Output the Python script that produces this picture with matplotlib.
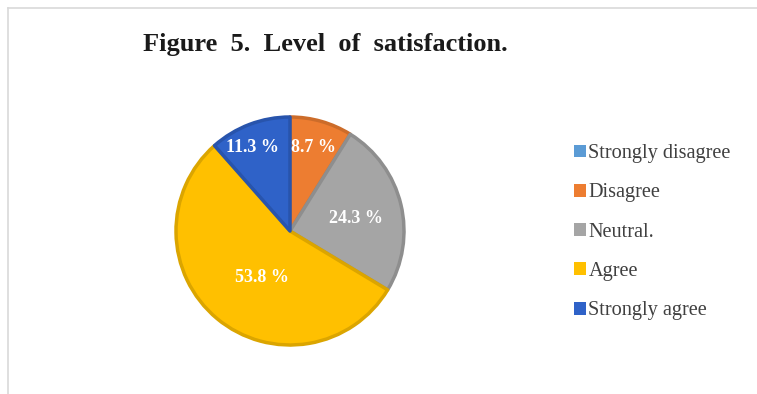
import matplotlib.pyplot as plt
import matplotlib.colors as mcolors
from matplotlib.patches import Patch
from matplotlib.lines import Line2D
import numpy as np

# satisfaction survey shares (percent)
categories = ["Strongly disagree", "Disagree", "Neutral.", "Agree", "Strongly agree"]
shares = [0.0, 8.7, 24.3, 53.8, 11.3]
colors = ["#5B9BD5", "#ED7D31", "#A5A5A5", "#FFC000", "#2F62C8"]

W, H = 757, 394
fig = plt.figure(figsize=(W / 100, H / 100), dpi=100)
ax = fig.add_axes([0, 0, 1, 1])

cx, cy, r = 290, H - 231, 114


def darker(c, f=0.86):
    rgb = np.array(mcolors.to_rgb(c))
    return tuple(rgb * f)


wedges, _ = ax.pie(shares, colors=colors, startangle=90, counterclock=False,
                   center=(cx, cy), radius=r, frame=True,
                   wedgeprops=dict(linewidth=0))
ax.set_xlim(0, W)
ax.set_ylim(0, H)
ax.set_aspect("equal")
ax.axis("off")

# darker inner rim on each slice
for w, c in zip(wedges, colors):
    if w.theta2 - w.theta1 <= 0:
        continue
    w.set_edgecolor(darker(c))
    w.set_linewidth(2.5)
    w.set_joinstyle("round")

# white percentage labels: (distance from centre, angle nudge in degrees)
label_pos = {1: (87, 0), 2: (67, -3), 3: (54, 8.5), 4: (92, 3.5)}
for i, w in enumerate(wedges):
    if shares[i] == 0:
        continue
    d, nudge = label_pos[i]
    ang = np.deg2rad((w.theta1 + w.theta2) / 2 + nudge)
    ax.text(cx + d * np.cos(ang), cy + d * np.sin(ang), f"{shares[i]:.1f} %",
            color="white", fontsize=13, fontweight="bold",
            family="Liberation Serif", ha="center", va="center")

fig.text(325 / W, 1 - 45 / H, "Figure  5.  Level  of  satisfaction.",
         family="Liberation Serif", fontweight="bold", fontsize=19,
         ha="center", va="center", color="#1a1a1a")

handles = [Patch(facecolor=c, edgecolor="none") for c in colors]
fig.legend(handles, categories, loc="upper left",
           bbox_to_anchor=(564 / W, 1 - 134 / H), frameon=False,
           prop={"family": "Liberation Serif", "size": 14.6},
           labelcolor="#404040", handlelength=0.6, handleheight=0.6,
           handletextpad=0.1, labelspacing=1.0, borderpad=0)

# thin frame lines along top and left
fig.add_artist(Line2D([8 / W, 1], [1 - 8 / H, 1 - 8 / H], color="#d9d9d9", lw=1.2))
fig.add_artist(Line2D([8 / W, 8 / W], [0, 1 - 8 / H], color="#d9d9d9", lw=1.2))

fig.savefig("out.png", dpi=100, facecolor="white")
